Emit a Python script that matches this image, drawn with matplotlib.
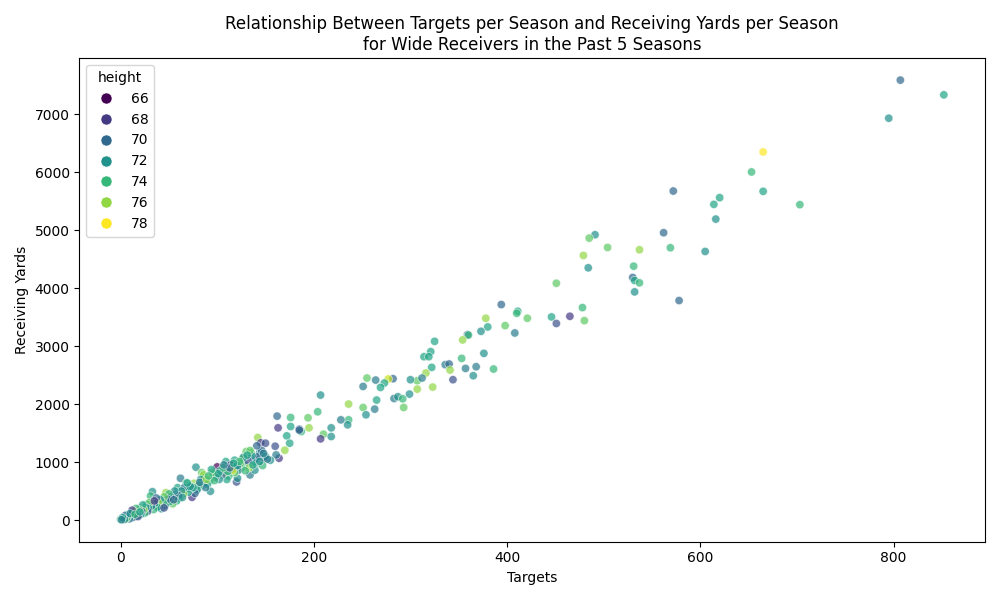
import matplotlib
matplotlib.use("Agg")
import matplotlib.pyplot as plt
import numpy as np
import pandas as pd
import seaborn as sns

# wide receivers: targets / receiving yards / height (inches)
targets = [
    807, 852, 795, 665, 653, 665, 703, 572, 620, 614,
    616, 562, 569, 605, 537, 491, 485, 504, 479, 484,
    451, 531, 530, 532, 537, 532, 578, 478, 465, 446,
    480, 451, 394, 411, 410, 421, 378, 398, 380, 373,
    408, 359, 360, 354, 325, 321, 314, 319, 376, 353,
    322, 336, 340, 341, 357, 368, 386, 365, 344, 316,
    307, 312, 307, 323, 300, 299, 282, 277, 273, 269,
    264, 255, 251, 283, 287, 292, 293, 265, 263, 251,
    254, 236, 236, 235, 228, 207, 204, 194, 195, 187,
    185, 218, 210, 218, 207, 162, 176, 163, 176, 185,
    172, 175, 170, 142, 145, 150, 160, 164, 161, 155,
    149, 144, 135, 130, 142, 134, 120, 121, 100, 109,
    118, 126, 78, 96, 84, 87, 76, 85, 93, 80,
    74, 62, 59, 68, 68, 57, 54, 47, 43, 36,
    33, 31, 20, 13, 3, 0, 27, 42, 48, 138,
    140, 143, 136, 128, 125, 122, 118, 115, 112, 110,
    108, 105, 103, 114, 132, 127, 139, 146, 141, 150,
    152, 147, 133, 124, 119, 116, 111, 106, 102, 98,
    95, 92, 90, 88, 86, 83, 81, 79, 77, 73,
    71, 70, 66, 65, 63, 61, 60, 58, 56, 54,
    52, 51, 50, 49, 46, 45, 44, 41, 40, 39,
    38, 37, 35, 34, 32, 30, 29, 28, 26, 25,
    24, 23, 22, 21, 19, 18, 17, 16, 15, 14,
    13, 12, 11, 10, 9, 8, 7, 6, 5, 4,
    2, 1, 12, 18, 10, 15, 20, 35, 45, 55,
    64, 75, 82, 89, 97, 101, 113, 121, 129, 137,
    144, 148, 134, 131, 123, 117, 107, 94, 91, 72,
    69,
]
yards = [
    7587, 7333, 6930, 6348, 6003, 5669, 5439, 5674, 5560, 5444,
    5190, 4955, 4696, 4632, 4661, 4920, 4862, 4701, 4563, 4350,
    4084, 4378, 4183, 4131, 4091, 3935, 3785, 3664, 3514, 3503,
    3439, 3390, 3716, 3600, 3566, 3480, 3480, 3353, 3330, 3255,
    3226, 3197, 3190, 3106, 3082, 2904, 2817, 2817, 2875, 2788,
    2633, 2679, 2691, 2587, 2615, 2644, 2604, 2489, 2420, 2535,
    2402, 2449, 2258, 2293, 2420, 2172, 2437, 2432, 2363, 2287,
    2414, 2449, 2304, 2096, 2126, 2091, 1941, 2069, 1913, 1941,
    1815, 2000, 1728, 1642, 1728, 2155, 1867, 1763, 1590, 1526,
    1567, 1590, 1481, 1440, 1400, 1792, 1768, 1590, 1613, 1550,
    1452, 1325, 1204, 1423, 1331, 1325, 1273, 1066, 1123, 1032,
    1066, 1163, 1163, 1180, 980, 778, 657, 720, 916, 1008,
    1032, 1050, 911, 778, 818, 731, 634, 605, 496, 548,
    392, 720, 558, 639, 530, 444, 375, 472, 328, 259,
    489, 415, 202, 116, 17, 12, 271, 195, 288, 1000,
    1050, 1100, 1110, 960, 900, 860, 820, 880, 760, 700,
    820, 780, 850, 950, 1020, 1080, 860, 1200, 1280, 1100,
    1050, 940, 900, 980, 920, 860, 840, 900, 700, 740,
    820, 680, 620, 560, 780, 700, 600, 520, 460, 540,
    600, 480, 560, 450, 500, 380, 420, 330, 500, 280,
    400, 320, 450, 360, 250, 400, 300, 350, 230, 300,
    220, 380, 280, 180, 240, 300, 200, 150, 220, 120,
    180, 260, 150, 100, 180, 80, 130, 200, 60, 150,
    90, 40, 130, 70, 20, 100, 50, 30, 80, 10,
    40, 5, 170, 60, 110, 100, 140, 330, 210, 350,
    390, 560, 650, 700, 680, 800, 900, 940, 850, 950,
    1010, 1150, 1200, 1120, 1010, 980, 950, 870, 760, 580,
    640,
]
height = [
    70, 73, 72, 78, 74, 73, 74, 70, 73, 73,
    72, 70, 74, 72, 76, 72, 75, 75, 76, 72,
    75, 74, 70, 73, 74, 72, 70, 74, 68, 73,
    75, 69, 70, 73, 74, 75, 76, 75, 73, 72,
    71, 70, 74, 76, 73, 73, 73, 73, 72, 74,
    73, 71, 70, 76, 71, 71, 74, 72, 69, 76,
    75, 71, 76, 76, 72, 72, 70, 77, 73, 73,
    71, 75, 71, 71, 72, 74, 75, 73, 71, 75,
    72, 76, 74, 72, 71, 72, 74, 75, 76, 74,
    69, 72, 75, 72, 68, 70, 74, 68, 73, 70,
    73, 73, 76, 76, 68, 69, 69, 68, 71, 72,
    68, 72, 74, 75, 74, 71, 69, 72, 66, 73,
    73, 76, 72, 75, 75, 75, 76, 72, 72, 69,
    68, 71, 73, 74, 74, 71, 71, 76, 72, 70,
    72, 74, 72, 70, 66, 74, 73, 72, 76, 73,
    71, 70, 72, 73, 74, 71, 75, 72, 74, 73,
    76, 70, 72, 68, 69, 72, 72, 70, 70, 73,
    71, 74, 76, 75, 71, 77, 73, 74, 72, 71,
    75, 74, 73, 71, 76, 72, 74, 73, 70, 72,
    75, 73, 71, 76, 72, 74, 70, 73, 72, 75,
    71, 73, 74, 70, 72, 75, 74, 72, 71, 76,
    73, 70, 72, 74, 71, 75, 73, 69, 72, 74,
    76, 73, 70, 72, 75, 73, 71, 74, 72, 76,
    73, 70, 72, 74, 71, 73, 72, 75, 70, 72,
    73, 71, 68, 69, 72, 74, 73, 68, 69, 70,
    72, 73, 71, 76, 74, 73, 70, 72, 74, 73,
    72, 71, 75, 73, 74, 73, 71, 73, 74, 72,
    73,
]

df = pd.DataFrame({"targets": targets, "yards": yards, "height": height})

fig, ax = plt.subplots(figsize=(10, 6), dpi=100)
sns.scatterplot(data=df, x="targets", y="yards", hue="height",
                palette="viridis", alpha=0.7, s=36, ax=ax)
ax.set_title("Relationship Between Targets per Season and Receiving Yards per Season\n"
             "for Wide Receivers in the Past 5 Seasons")
ax.set_xlabel("Targets")
ax.set_ylabel("Receiving Yards")
leg = ax.legend(title="height", loc="upper left")
for h in leg.legend_handles:
    h.set_alpha(1)
    h.set_markersize(8)
fig.tight_layout()
fig.savefig("out.png")
